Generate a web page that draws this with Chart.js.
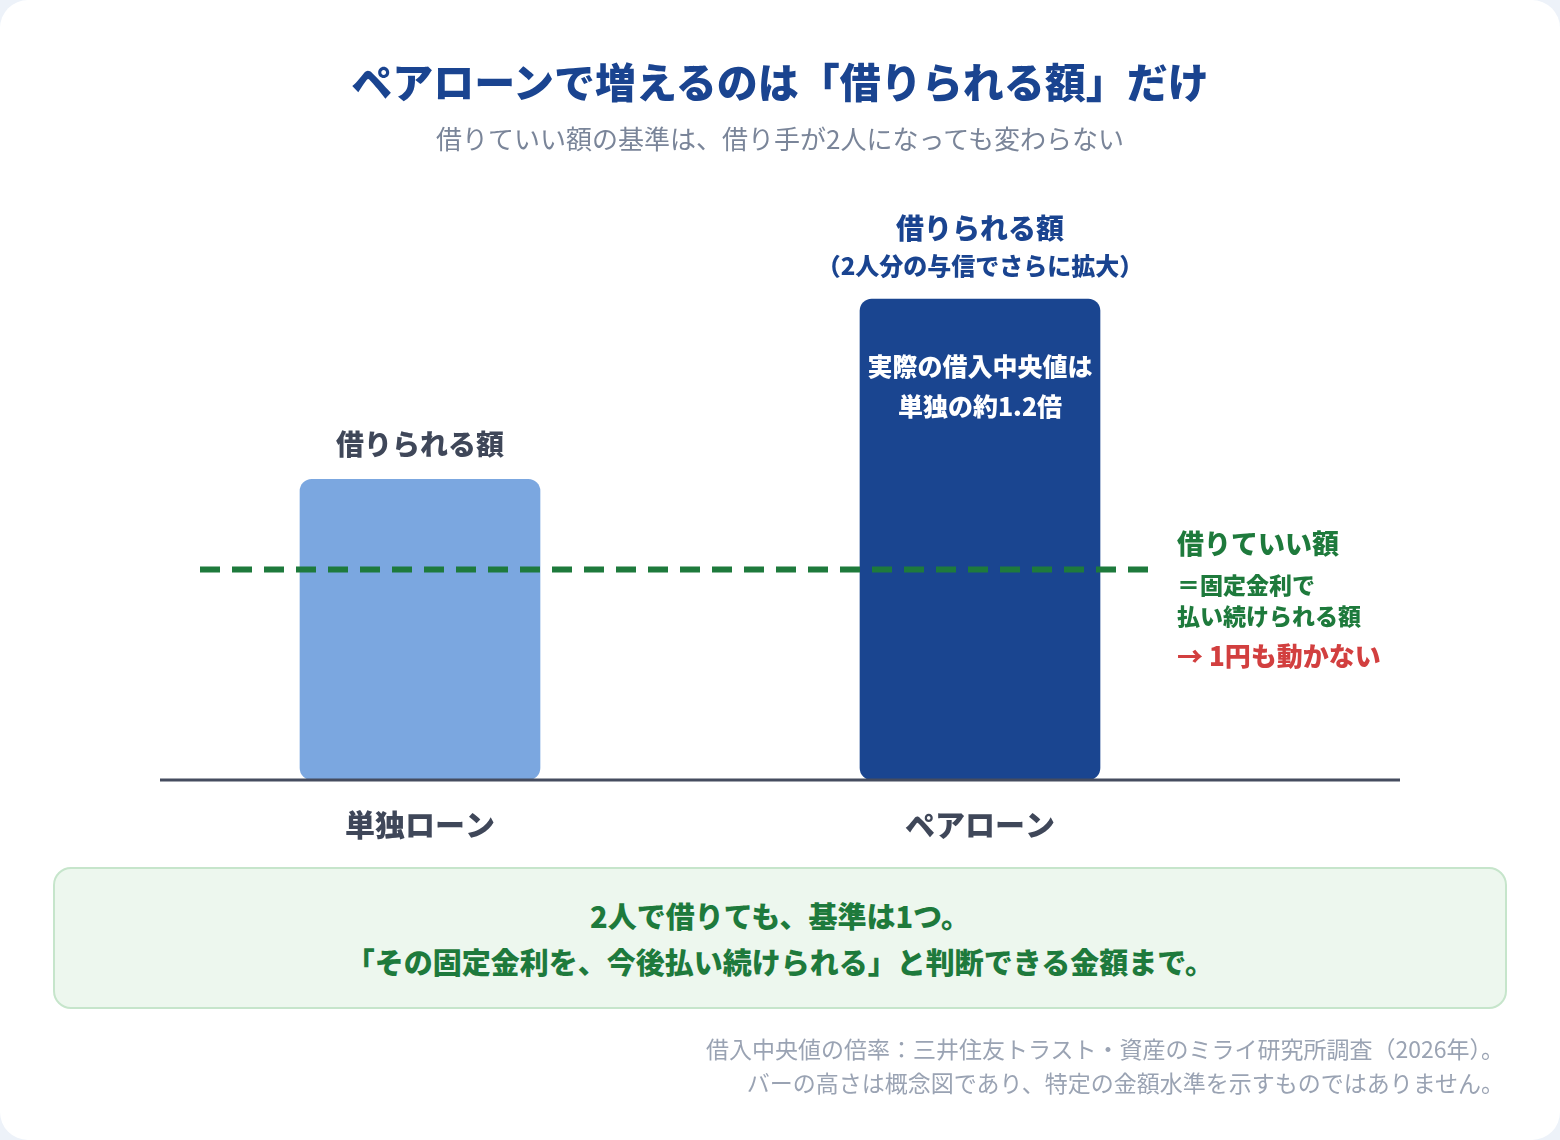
<!DOCTYPE html>
<html lang="ja">
<head>
<meta charset="utf-8">
<title>ペアローンで増えるのは「借りられる額」だけ</title>
<script src="https://cdn.jsdelivr.net/npm/chart.js@4.4.1/dist/chart.umd.min.js"></script>
<style>
  html, body { margin: 0; padding: 0; }
  body {
    width: 1560px; height: 1140px;
    background: #edf2f9;
    font-family: "Noto Sans CJK JP", "Noto Sans", sans-serif;
    overflow: hidden;
  }
  .card {
    position: absolute; left: 0; top: 0;
    width: 1560px; height: 1140px;
    background: #ffffff;
    border-radius: 28px;
  }
  #chart { position: absolute; left: 0; top: 0; }
  .title {
    position: absolute; left: 0; width: 1560px; top: 60px;
    text-align: center; font-size: 41px; line-height: 41px;
    font-weight: 900; color: #1a4490;
  }
  .subtitle {
    position: absolute; left: 0; width: 1560px; top: 124px;
    text-align: center; font-size: 26px; line-height: 27px;
    color: #7a8599;
  }
  .note {
    position: absolute; left: 53px; top: 867px;
    width: 1454px; height: 142px; box-sizing: border-box;
    border: 2px solid #c6e5cb; border-radius: 18px;
    background: #edf7ee;
    display: flex; flex-direction: column; justify-content: center;
    text-align: center; color: #1e7a3c;
    font-size: 29px; line-height: 46px; font-weight: 900;
  }
  .source {
    position: absolute; right: 56px; top: 1031px;
    text-align: right; font-size: 23px; line-height: 34px;
    color: #9aa3b3;
  }
</style>
</head>
<body>
<div class="card">
  <canvas id="chart" width="1560" height="1140"></canvas>
  <div class="title">ペアローンで増えるのは「借りられる額」だけ</div>
  <div class="subtitle">借りていい額の基準は、借り手が2人になっても変わらない</div>
  <div class="note">
    <div>2人で借りても、基準は1つ。</div>
    <div>「その固定金利を、今後払い続けられる」と判断できる金額まで。</div>
  </div>
  <div class="source">
    <div>借入中央値の倍率：三井住友トラスト・資産のミライ研究所調査（2026年）。</div>
    <div>バーの高さは概念図であり、特定の金額水準を示すものではありません。</div>
  </div>
</div>

<script>
// conceptual heights (not real amounts)
const categories = ['単独ローン', 'ペアローン'];
const borrowable = [100, 160];
const safeLimit = 70;
const yMax = 200;

const barLabels = [['借りられる額'], ['借りられる額', '（2人分の与信でさらに拡大）']];
const insideLabel = ['実際の借入中央値は', '単独の約1.2倍'];
const limitLabels = ['借りていい額', '＝固定金利で', '払い続けられる額', '→ 1円も動かない'];

const FONT = '"Noto Sans CJK JP", "Noto Sans", sans-serif';
const barColors = ['#7ba7e0', '#1a4590'];

const overlayPlugin = {
  id: 'overlay',
  afterDatasetsDraw(chart) {
    const ctx = chart.ctx;
    const yScale = chart.scales.y;
    const bars = chart.getDatasetMeta(0).data;
    const base = yScale.getPixelForValue(0);
    const lineY = yScale.getPixelForValue(safeLimit);

    ctx.save();

    // dashed "借りていい額" line
    ctx.strokeStyle = '#1e7a3c';
    ctx.lineWidth = 6;
    ctx.setLineDash([20, 12]);
    ctx.beginPath();
    ctx.moveTo(200, lineY);
    ctx.lineTo(1148, lineY);
    ctx.stroke();
    ctx.setLineDash([]);

    // baseline
    ctx.strokeStyle = '#454c5f';
    ctx.lineWidth = 3;
    ctx.beginPath();
    ctx.moveTo(160, base + 0.5);
    ctx.lineTo(1400, base + 0.5);
    ctx.stroke();

    ctx.textAlign = 'center';
    ctx.textBaseline = 'middle';

    // labels above bars
    ctx.fillStyle = '#3f4759';
    ctx.font = `900 28px ${FONT}`;
    ctx.fillText(barLabels[0][0], bars[0].x, bars[0].y - 35);

    ctx.fillStyle = '#1a4490';
    ctx.fillText(barLabels[1][0], bars[1].x, bars[1].y - 71);
    ctx.font = `900 24px ${FONT}`;
    ctx.fillText(barLabels[1][1], bars[1].x, bars[1].y - 33);

    // text inside the pair-loan bar
    ctx.fillStyle = '#ffffff';
    ctx.font = `900 25px ${FONT}`;
    ctx.fillText(insideLabel[0], bars[1].x, bars[1].y + 67);
    ctx.fillText(insideLabel[1], bars[1].x, bars[1].y + 107);

    // annotation next to the dashed line
    ctx.textAlign = 'left';
    ctx.fillStyle = '#1e7a3c';
    ctx.font = `900 27px ${FONT}`;
    ctx.fillText(limitLabels[0], 1177, lineY - 26);
    ctx.font = `900 23px ${FONT}`;
    ctx.fillText(limitLabels[1], 1177, lineY + 16);
    ctx.fillText(limitLabels[2], 1177, lineY + 47);
    ctx.fillStyle = '#d23f3f';
    ctx.font = `900 26px ${FONT}`;
    ctx.fillText(limitLabels[3], 1177, lineY + 87);

    ctx.restore();
  }
};

new Chart(document.getElementById('chart'), {
  type: 'bar',
  data: {
    labels: categories,
    datasets: [{
      data: borrowable,
      backgroundColor: barColors,
      borderRadius: 12,
      borderSkipped: false,
      barThickness: 240
    }]
  },
  options: {
    responsive: false,
    animation: false,
    layout: { padding: { top: 179, left: 140, right: 300, bottom: 270.4 } },
    plugins: { legend: { display: false }, tooltip: { enabled: false } },
    scales: {
      x: {
        grid: { display: false, drawTicks: false },
        border: { display: false },
        ticks: {
          padding: 27,
          color: '#3f4759',
          font: { family: FONT, size: 30, weight: 900 }
        }
      },
      y: { display: false, min: 0, max: yMax }
    }
  },
  plugins: [overlayPlugin]
});
</script>
</body>
</html>
